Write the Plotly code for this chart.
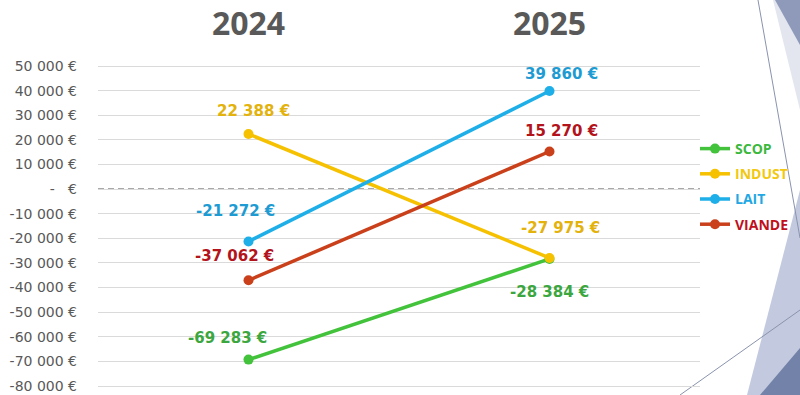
import plotly.graph_objects as go

years = ["2024", "2025"]
series_names = ["SCOP", "INDUST", "LAIT", "VIANDE"]
scop = [-69283, -28384]
indust = [22388, -27975]
lait = [-21272, 39860]
viande = [-37062, 15270]
tick_vals = [50000, 40000, 30000, 20000, 10000, 0, -10000, -20000, -30000,
             -40000, -50000, -60000, -70000, -80000]
tick_text = ["50 000 €", "40 000 €", "30 000 €", "20 000 €", "10 000 €", "-\u00a0\u00a0\u00a0€",
             "-10 000 €", "-20 000 €", "-30 000 €", "-40 000 €", "-50 000 €",
             "-60 000 €", "-70 000 €", "-80 000 €"]

values = {"SCOP": scop, "INDUST": indust, "LAIT": lait, "VIANDE": viande}
line_col = {"SCOP": "#43c23b", "INDUST": "#f5c100", "LAIT": "#1eafe9", "VIANDE": "#c9401b"}
label_col = {"SCOP": "#3ca63f", "INDUST": "#e3b20c", "LAIT": "#1d9bd2", "VIANDE": "#b3131b"}
legend_col = {"SCOP": "#3cb83e", "INDUST": "#f2c811", "LAIT": "#1fa8e3", "VIANDE": "#c0101b"}
# label offsets in px (xshift, yshift) per series per year
offsets = {
    "SCOP": [(-21, 22), (0, -33)],
    "INDUST": [(5, 23), (11, 30)],
    "LAIT": [(-13, 30), (12, 17)],
    "VIANDE": [(-14, 24), (12, 20)],
}

def fmt(v):
    s = f"{abs(v):,}".replace(",", " ")
    return ("-" if v < 0 else "") + s + " €"

fig = go.Figure()
for i, name in enumerate(series_names):
    fig.add_trace(go.Scatter(
        x=years, y=values[name], mode="lines+markers",
        name=f"<span style='color:{legend_col[name]}'>{name}</span>",
        legendgroup=name,
        line=dict(color=line_col[name], width=3.5),
        marker=dict(color=line_col[name], size=10),
    ))

annotations = []
for name in series_names:
    for j, yr in enumerate(years):
        xs, ys = offsets[name][j]
        annotations.append(dict(
            x=j, y=values[name][j], xref="x", yref="y", text=fmt(values[name][j]),
            showarrow=False, xshift=xs, yshift=ys,
            font=dict(family="DejaVu Sans", size=15, color=label_col[name], weight="bold"),
        ))

shapes = [
    dict(type="line", xref="paper", yref="y", x0=0, x1=1, y0=0, y1=0,
         line=dict(color="white", width=2), layer="between"),
    dict(type="line", xref="paper", yref="y", x0=0, x1=1, y0=0, y1=0,
         line=dict(color="#8c8c8c", width=1.5, dash="6px,4px"), layer="between"),
]
# slide decorations (paper coords via pixel mapping)
W, H, L, R, T, B = 800, 395, 98, 100, 60, 4
def px(x, y):
    return ((x - L) / (W - L - R), (H - B - y) / (H - T - B))
def poly(pts, color):
    p = [px(x, y) for x, y in pts]
    path = "M " + " L ".join(f"{a},{b}" for a, b in p) + " Z"
    return dict(type="path", xref="paper", yref="paper", path=path,
                fillcolor=color, line=dict(width=0), layer="below")
def seg(p0, p1):
    a, b = px(*p0); c, d = px(*p1)
    return dict(type="line", xref="paper", yref="paper", x0=a, y0=b, x1=c, y1=d,
                line=dict(color="#8a93ad", width=1), layer="below")
shapes += [
    poly([(773, 0), (800, 0), (800, 110)], "#e3e6ef"),
    poly([(775, 0), (800, 0), (800, 45)], "#8f9abb"),
    poly([(800, 190), (747, 395), (800, 395)], "#c3cadf"),
    poly([(800, 348), (760, 395), (800, 395)], "#7382a8"),
    seg((758, 0), (800, 238)),
    seg((680, 395), (800, 310)),
]

upp = 130000 / 320  # value units per pixel
fig.update_layout(
    width=800, height=395,
    margin=dict(l=L, r=R, t=T, b=B, autoexpand=False),
    paper_bgcolor="white", plot_bgcolor="white",
    font=dict(family="Open Sans", color="#595959"),
    showlegend=True,
    legend=dict(x=(695 - L) / (W - L - R), xanchor="left",
                y=(H - B - 133) / (H - T - B), yanchor="top",
                font=dict(family="Open Sans", size=14, weight="bold"),
                tracegroupgap=4, bgcolor="rgba(0,0,0,0)", itemwidth=30),
    annotations=annotations,
    shapes=shapes,
    xaxis=dict(type="category", range=[-0.5, 1.5], side="top", showgrid=False,
               zeroline=False, showline=False, ticks="", automargin=False,
               tickfont=dict(family="Open Sans", size=32, color="#595959", weight="bold"),
               ticklabelstandoff=18),
    yaxis=dict(range=[-80000 - 5 * upp, 50000 + 6 * upp], tickvals=tick_vals, ticktext=tick_text,
               showgrid=True, gridcolor="#dadada", gridwidth=1, zeroline=False,
               showline=False, ticks="", ticklabelstandoff=20, automargin=False,
               tickfont=dict(family="DejaVu Sans", size=14, color="#595959")),
)

fig.write_html("out.html", config={"displayModeBar": False},
               post_script="document.body.style.margin='0';document.body.style.overflow='hidden';")
